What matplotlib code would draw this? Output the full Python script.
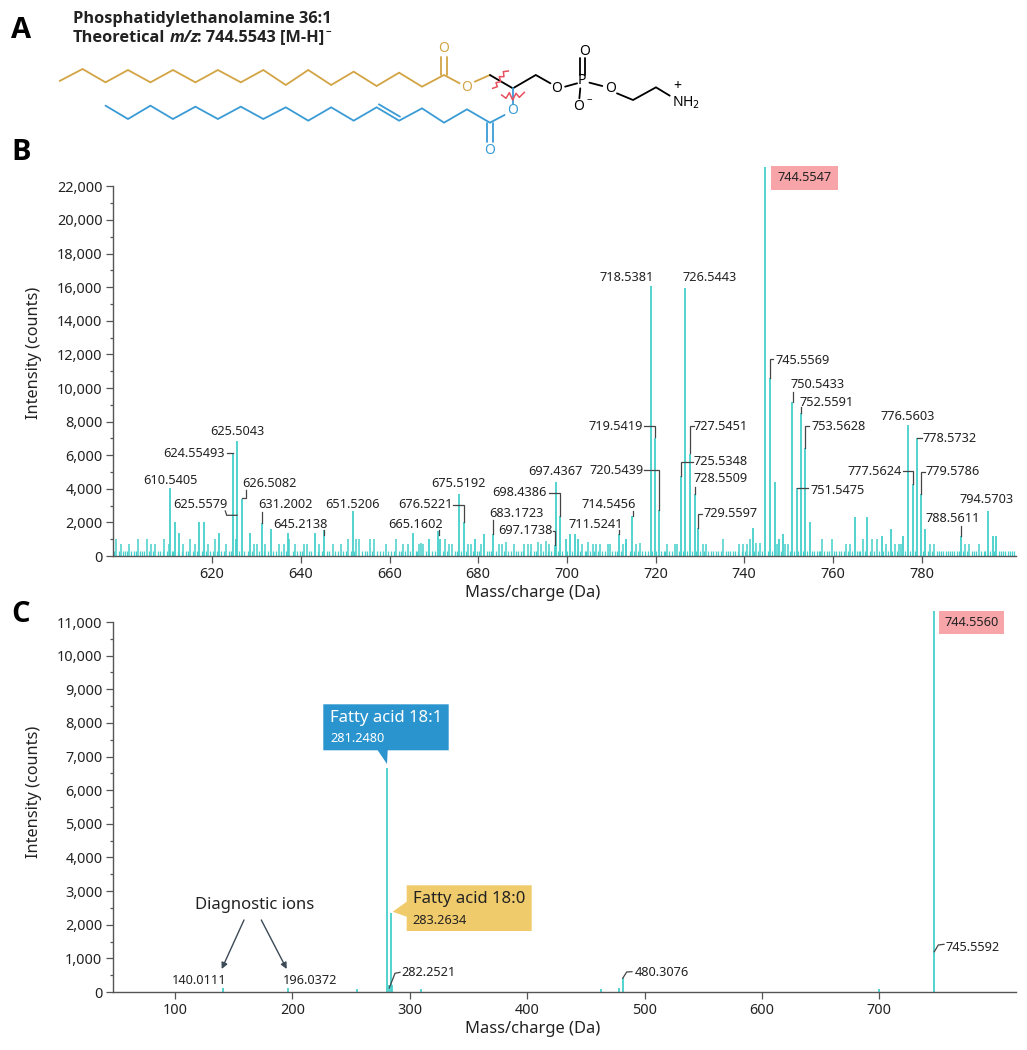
import matplotlib
matplotlib.use("Agg")
import matplotlib.pyplot as plt
from matplotlib.patches import Polygon, Rectangle

plt.rcParams['font.family'] = ['Noto Sans', 'DejaVu Sans']

W, H = 1027, 1050
TEAL = '#45d0cc'
AXIS = '#555555'
INK = '#222222'
GOLD = '#d2a444'
BLUE = '#3a9bd5'
PINK = '#f7a5a8'
BOLD = ['Open Sans', 'DejaVu Sans']

# Panel B, the tall named peaks (m/z, counts)
b_peak_mz = [610.6, 611.6, 612.6, 617.1, 618.1, 621.5, 624.6, 625.57, 626.65, 625.3, 628.5, 631.2, 633.2, 637.0,
             643.2, 645.3, 651.7, 665.4, 670.9, 671.4, 669.0, 675.7, 676.7, 679.2, 681.3, 683.4, 697.5, 698.5,
             697.3, 700.7, 701.8, 699.7, 702.6, 711.7, 714.8, 713.3, 718.87, 719.85, 720.75, 725.7, 726.68, 727.75,
             728.8, 729.6, 741.9, 744.8, 745.85, 746.85, 748.7, 747.9, 750.85, 751.8, 752.7, 753.76, 754.8,
             765.0, 767.8, 771.0, 773.0, 775.9, 776.85, 778.0, 779.0, 779.9, 780.8, 788.9, 794.9, 796.0, 796.9]
b_peak_counts = [4020, 2000, 1350, 2000, 2000, 1350, 6100, 6830, 3400, 1000, 1350, 1950, 1600, 1350,
                 1350, 1550, 2650, 1350, 1500, 1000, 1000, 3720, 2000, 1000, 1300, 1290, 4400, 2370,
                 650, 1300, 1300, 1000, 1000, 1290, 2370, 1000, 16090, 7050, 2730, 4770, 15970, 6100,
                 3680, 1640, 1690, 23150, 10570, 4385, 1310, 990, 9190, 4030, 8490, 6450, 2000,
                 2340, 2340, 1210, 1590, 1210, 7780, 4290, 7040, 3670, 1590, 1210, 2700, 1210, 1210]

# Panel B, the grass under the peaks: three rough height classes
b_grass_high_mz = [598.3, 603.2, 605.2, 609.2, 615.1, 620.6, 637.4, 650.6, 652.5, 653.2, 655.5, 656.5, 661.5,
                   667.0, 672.5, 686.2, 693.4, 695.3, 704.8, 713.4, 716.6, 735.3, 741.3, 743.5, 757.6, 759.8,
                   766.7, 768.9, 769.9, 742.6]
b_grass_high_counts = [1000, 1000, 1000, 1000, 1000, 1000, 1000, 1000, 1000, 1000, 1000, 1000, 1000,
                       800, 1000, 850, 850, 900, 850, 800, 800, 1000, 1000, 800, 1000, 1000,
                       1000, 1000, 1000, 800]
b_grass_mid_mz = [599.4, 601.2, 606.2, 607.2, 610.2, 613.5, 616.1, 619.1, 623.2, 629.4, 630.1, 632.0, 635.0,
                  636.1, 638.7, 640.6, 641.3, 644.2, 647.2, 649.0, 659.1, 663.1, 664.2, 666.6, 667.6, 673.4,
                  674.2, 677.6, 678.3, 680.6, 684.6, 685.4, 688.0, 690.4, 691.2, 692.0, 694.2, 696.0, 703.4,
                  705.8, 706.6, 707.4, 709.2, 709.8, 712.6, 715.6, 722.6, 724.4, 724.9, 730.6, 731.4, 738.9,
                  739.8, 740.6, 747.3, 749.2, 749.9, 762.9, 763.9, 771.9, 773.9, 774.9, 775.4, 781.9, 782.9,
                  789.8, 790.8, 792.9]
b_grass_low_mz = [597.9, 598.9, 599.9, 600.4, 600.9, 601.8, 602.3, 602.8, 603.7, 604.2, 604.7, 605.7, 606.7,
                  607.8, 608.3, 608.8, 609.7, 610.9, 611.2, 612.2, 613.1, 614.1, 614.6, 615.7, 616.6, 617.6,
                  618.6, 619.6, 620.1, 621.1, 622.0, 622.6, 623.7, 624.2, 626.1, 627.2, 628.0, 628.9, 630.6,
                  631.6, 632.5, 633.8, 634.4, 635.5, 636.6, 638.2, 639.2, 639.8, 640.2, 641.9, 642.4, 643.8,
                  644.8, 645.8, 646.4, 647.8, 648.4, 649.6, 650.2, 651.2, 652.0, 653.8, 654.4, 654.9, 656.0,
                  657.1, 657.8, 658.5, 659.7, 660.3, 660.9, 662.2, 662.7, 663.6, 664.7, 665.9, 666.2, 668.2,
                  668.6, 669.6, 670.2, 672.0, 673.0, 674.8, 675.2, 676.2, 677.2, 678.8, 679.8, 680.2, 681.9,
                  682.5, 683.0, 684.0, 685.9, 686.7, 687.3, 688.5, 689.0, 689.6, 690.0, 691.7, 692.6, 693.0,
                  694.7, 695.8, 696.5, 697.0, 698.0, 699.0, 700.0, 701.2, 702.2, 703.0, 704.0, 704.4, 705.3,
                  706.2, 707.0, 708.0, 708.6, 710.2, 710.8, 711.2, 712.2, 714.2, 715.2, 716.0, 717.0, 717.6,
                  718.2, 719.3, 720.2, 721.2, 721.8, 722.2, 723.0, 723.6, 725.2, 726.2, 727.2, 728.2, 729.1,
                  730.1, 731.0, 731.9, 732.5, 733.0, 733.6, 734.2, 734.8, 735.8, 736.3, 736.9, 737.5, 738.0,
                  738.5, 739.4, 740.1, 741.0, 742.2, 743.0, 744.1, 745.3, 746.3, 748.3, 750.4, 751.3, 752.2,
                  753.2, 754.2, 755.3, 755.8, 756.4, 756.9, 757.2, 758.1, 758.6, 759.2, 760.3, 760.8, 761.4,
                  761.9, 762.4, 763.4, 764.4, 765.4, 765.9, 766.2, 767.2, 768.3, 769.3, 770.4, 771.4, 772.4,
                  773.4, 774.4, 776.3, 777.4, 778.5, 780.3, 781.4, 782.4, 783.4, 783.9, 784.4, 784.9, 785.4,
                  785.9, 786.4, 786.9, 787.4, 787.9, 788.4, 789.3, 790.3, 791.3, 791.8, 792.3, 793.4, 794.0,
                  794.4, 795.4, 796.4, 797.4, 797.9, 798.4, 798.9, 799.4, 799.9, 800.4, 800.9]

# Panel C
c_peak_mz = [140.6, 196.0, 255.0, 280.6, 282.6, 283.6, 284.4, 309.7, 462.6, 478.5, 481.3, 699.4, 746.8]
c_peak_counts = [110, 130, 90, 6670, 200, 2340, 220, 100, 100, 110, 410, 100, 11330]

b_yticks = [0, 2000, 4000, 6000, 8000, 10000, 12000, 14000, 16000, 18000, 20000, 22000]
b_yticklabels = ['0', '2,000', '4,000', '6,000', '8,000', '10,000', '12,000', '14,000', '16,000', '18,000', '20,000', '22,000']
b_xticks = [620, 640, 660, 680, 700, 720, 740, 760, 780]
c_yticks = [0, 1000, 2000, 3000, 4000, 5000, 6000, 7000, 8000, 9000, 10000, 11000]
c_yticklabels = ['0', '1,000', '2,000', '3,000', '4,000', '5,000', '6,000', '7,000', '8,000', '9,000', '10,000', '11,000']
c_xticks = [100, 200, 300, 400, 500, 600, 700]


def px_axes(left, top, right, bottom):
    return fig.add_axes([left / W, 1 - bottom / H, (right - left) / W, (bottom - top) / H])


def style_axis(ax, yticks, ylabels, xticks, ymax, minor):
    ax.set_ylim(0, ymax)
    ax.spines['top'].set_visible(False)
    ax.spines['right'].set_visible(False)
    ax.spines['left'].set_color(AXIS)
    ax.spines['bottom'].set_color(AXIS)
    ax.spines['left'].set_linewidth(1.0)
    ax.spines['bottom'].set_linewidth(1.0)
    ax.set_yticks(yticks)
    ax.set_yticklabels(ylabels)
    ax.set_yticks(minor, minor=True)
    ax.set_xticks(xticks)
    ax.tick_params(axis='both', which='major', length=4.8, width=0.9, color=AXIS, labelsize=10.4, labelcolor=INK, pad=3)
    ax.tick_params(axis='y', which='minor', length=2.4, width=0.9, color=AXIS)
    ax.patch.set_alpha(0)


fig = plt.figure(figsize=(W / 100, H / 100), dpi=100)

# Panel B
ax_b = px_axes(113.3, 186.4, 1016, 556)
ax_b.vlines(b_grass_low_mz, 0, [320] * len(b_grass_low_mz), color=TEAL, lw=0.9)
ax_b.vlines(b_grass_mid_mz, 0, [720] * len(b_grass_mid_mz), color=TEAL, lw=1.1)
ax_b.vlines(b_grass_high_mz, 0, b_grass_high_counts, color=TEAL, lw=1.1)
ax_b.vlines(b_peak_mz, 0, b_peak_counts, color=TEAL, lw=1.3, clip_on=False)
ax_b.set_xlim(597.7, 801.3)
style_axis(ax_b, b_yticks, b_yticklabels, b_xticks, 22000, list(range(1000, 22000, 2000)))

# Panel C
ax_c = px_axes(113.3, 622, 1016, 992)
ax_c.vlines(c_peak_mz, 0, c_peak_counts, color=TEAL, lw=1.3, clip_on=False)
ax_c.set_xlim(47.4, 816.4)
style_axis(ax_c, c_yticks, c_yticklabels, c_xticks, 11000, list(range(500, 11000, 1000)))

# Overlay in picture pixels for labels, leaders and the structure
ov = fig.add_axes([0, 0, 1, 1])
ov.set_xlim(0, W)
ov.set_ylim(H, 0)
ov.axis('off')
ov.patch.set_alpha(0)

for letter, y in [('A', 31), ('B', 152), ('C', 615)]:
    ov.text(21, y, letter, fontsize=21, fontweight='bold', family=BOLD, color='black', ha='center', va='center')
ov.text(73, 19, 'Phosphatidylethanolamine 36:1', fontsize=11.8, fontweight='bold', family=BOLD, color=INK, va='center')
ov.text(73, 37.5, 'Theoretical', fontsize=11.8, fontweight='bold', family=BOLD, color=INK, va='center')
ov.text(170, 37.5, 'm/z', fontsize=11.8, fontweight='bold', style='italic', family=BOLD, color=INK, va='center')
ov.text(197, 37.5, ': 744.5543 [M-H]', fontsize=11.8, fontweight='bold', family=BOLD, color=INK, va='center')
ov.text(326, 32, '\u2212', fontsize=7, fontweight='bold', family=BOLD, color=INK, va='center')

for x, y in [(34, 353), (34, 792)]:
    ov.text(x, y, 'Intensity (counts)', fontsize=11.7, color=INK, rotation=90, ha='center', va='center')
for y in [593, 1029]:
    ov.text(533, y, 'Mass/charge (Da)', fontsize=11.9, color=INK, ha='center', va='center')

# peak labels of panel B: text, left edge, y
b_labels = [('610.5405', 143, 480), ('625.5043', 210.7, 431.7), ('624.55493', 163.3, 453.3), ('625.5579', 173.3, 505),
            ('626.5082', 242.7, 483.3), ('631.2002', 258.3, 505), ('645.2138', 273.7, 524.3), ('651.5206', 325.7, 505),
            ('665.1602', 388, 524.3), ('675.5192', 431.7, 483.3), ('676.5221', 398, 505), ('683.1723', 489.3, 513.3),
            ('697.1738', 498.7, 530.7), ('697.4367', 528.3, 471.3), ('698.4386', 492.7, 493), ('711.5241', 568.3, 524.3),
            ('714.5456', 581.7, 505), ('719.5419', 588.3, 426.3), ('720.5439', 589.3, 471), ('727.5451', 693.7, 426.3),
            ('725.5348', 693.7, 461.7), ('728.5509', 693.7, 479), ('729.5597', 703, 513.3), ('718.5381', 599.3, 277.7),
            ('726.5443', 682.7, 277.7), ('745.5569', 776, 361), ('750.5433', 790.3, 385), ('752.5591', 799, 402.7),
            ('753.5628', 811.7, 426.3), ('751.5475', 810.7, 490), ('776.5603', 880.7, 417), ('778.5732', 922.7, 438.7),
            ('777.5624', 847.7, 471.7), ('779.5786', 926, 471.7), ('788.5611', 926, 519), ('794.5703', 960, 499.3)]
c_labels = [('140.0111', 171.5, 981), ('196.0372', 283.3, 981), ('282.2521', 401.7, 972.3),
            ('480.3076', 634.3, 972.3), ('745.5592', 946, 947.7)]
for txt, x, y in b_labels + c_labels:
    ov.text(x, y, txt, fontsize=9.2, color=INK, ha='left', va='center')

leaders = [[(226.7, 453.3), (232.7, 453.3)], [(225.3, 511), (226.7, 515.3), (237, 515.3)],
           [(246, 490), (246, 498.3), (241.7, 498.3)], [(262, 512.3), (262, 523.3)], [(324.3, 530), (324.3, 535)],
           [(438.7, 530), (438.7, 535)], [(453.3, 505), (463.7, 505), (463.7, 522.3)], [(493.3, 520), (493.3, 534.3)],
           [(552.7, 530.7), (555, 530.7), (555, 545)], [(549, 493), (560.3, 493), (560.3, 516)],
           [(619, 530), (619, 534.3)], [(632.7, 511), (632.7, 516)], [(644, 426.3), (655.3, 426.3), (655.3, 437.3)],
           [(644.3, 470.3), (659, 470.3), (659, 510)], [(694, 426.3), (690, 426.3), (690, 453.3)],
           [(693, 461.7), (681, 461.7), (681, 475.7)], [(694.7, 486.7), (694.7, 494)],
           [(698, 528.3), (698, 514), (702, 514)], [(770.3, 378.3), (770.3, 359.3), (772.7, 359.3)],
           [(792.7, 391.7), (792.7, 401.7)], [(800.7, 406.7), (800.7, 413.3)],
           [(805.3, 447.7), (805.3, 426.3), (809.3, 426.3)], [(796.7, 488.3), (807.7, 488.3)],
           [(917, 437.7), (922, 437.7)], [(903.3, 471.3), (912.7, 471.3), (912.7, 484)],
           [(921, 494.3), (921, 471.7), (925, 471.7)], [(961, 526), (961, 535.7)],
           [(389.3, 988), (395, 973.3), (400, 972.3)], [(622.7, 978.3), (626.7, 972), (632, 971.7)],
           [(934.3, 951.7), (938.3, 945), (944, 944.3)]]
for pts in leaders:
    ov.plot([p[0] for p in pts], [p[1] for p in pts], color='#444444', lw=0.9, solid_joinstyle='miter')

# boxes
ov.add_patch(Rectangle((770.7, 165.7), 67, 24, facecolor=PINK, edgecolor='none'))
ov.text(804.2, 177.7, '744.5547', fontsize=9.2, color=INK, ha='center', va='center')
ov.add_patch(Rectangle((939.3, 610.7), 64.4, 23.6, facecolor=PINK, edgecolor='none'))
ov.text(971.5, 622.5, '744.5560', fontsize=9.2, color=INK, ha='center', va='center')

ov.add_patch(Polygon([(323.3, 704.3), (448.7, 704.3), (448.7, 750.3), (387.7, 750.3), (387, 764), (377.7, 750.3),
                      (323.3, 750.3)], facecolor='#2a94cf', edgecolor='none'))
ov.text(330, 718.3, 'Fatty acid 18:1', fontsize=12, color='white', va='center')
ov.text(330, 739, '281.2480', fontsize=9.2, color='white', va='center')

ov.add_patch(Polygon([(406.7, 885.3), (531.7, 885.3), (531.7, 931), (406.7, 931), (406.7, 916.7), (392.7, 911.7),
                      (406.7, 901.7)], facecolor='#f0cb6b', edgecolor='none'))
ov.text(412.7, 899, 'Fatty acid 18:0', fontsize=12, color=INK, va='center')
ov.text(412.7, 920, '283.2634', fontsize=9.2, color=INK, va='center')

ov.text(254.3, 905, 'Diagnostic ions', fontsize=12, color=INK, ha='center', va='center')
for start, end in [((244, 920), (221.7, 969)), ((261.3, 920), (286.7, 969))]:
    ov.annotate('', xy=end, xytext=start, arrowprops=dict(arrowstyle='-|>', color='#3c4a57', lw=1.0, mutation_scale=9,
                                                          shrinkA=0, shrinkB=0))


def bond(pts, color, lw=1.3):
    ov.plot([p[0] / 2.18 for p in pts], [p[1] / 3 for p in pts], color=color, lw=lw, solid_capstyle='round', solid_joinstyle='miter')


bond([(130, 243), (180, 207), (230, 247), (279, 210), (328, 247), (377, 210), (426, 247), (475, 210), (525, 247),
      (574, 210), (623, 255), (672, 210), (722, 255), (771, 215), (821, 258), (870, 218), (920, 260), (968, 225),
      (1002, 250)], GOLD)
bond([(962, 225), (962, 170)], GOLD)
bond([(974, 225), (974, 170)], GOLD)
bond([(1035, 245), (1068, 225)], GOLD)
bond([(1068, 225), (1118, 265), (1168, 225), (1200, 250)], 'black')
bond([(1232, 260), (1258, 250)], 'black')
bond([(1264, 225), (1264, 175)], 'black')
bond([(1276, 225), (1276, 175)], 'black')
bond([(1265, 265), (1263, 295)], 'black')
bond([(1285, 248), (1313, 258)], 'black')
bond([(1345, 280), (1380, 300), (1430, 262), (1460, 287)], 'black')
bond([(230, 317), (279, 357), (328, 317), (377, 357), (426, 320), (475, 357), (525, 320), (574, 357), (623, 322),
      (672, 362), (722, 322), (771, 362), (821, 322), (870, 362), (920, 325), (968, 368), (1018, 328), (1068, 368),
      (1100, 345)], BLUE)
bond([(826, 313), (872, 350)], BLUE)
bond([(1062, 368), (1062, 425)], BLUE)
bond([(1074, 368), (1074, 425)], BLUE)
bond([(1118, 265), (1118, 312)], BLUE)

atoms = [('O', 968, 145, GOLD), ('O', 1017, 263, GOLD), ('O', 1117, 330, BLUE), ('O', 1067, 450, BLUE),
         ('O', 1214, 265, 'black'), ('P', 1268, 240, 'black'), ('O', 1275, 155, 'black'), ('O', 1262, 320, 'black'),
         ('O', 1330, 265, 'black'), ('NH$_2$', 1495, 308, 'black'), ('+', 1476, 260, 'black')]
for name, x, y, color in atoms:
    ov.text(x / 2.18, y / 3, name, fontsize=10, color=color, ha='center', va='center', math_fontfamily='dejavusans')
ov.text(1284 / 2.18, 302 / 3, '\u2212', fontsize=7, color='black', ha='center', va='center')

# red cut marks
cut_a = [(98, 145), (112, 140), (108, 128), (122, 125), (118, 110), (132, 110), (130, 95), (145, 93)]
cut_b = [(125, 165), (138, 175), (148, 158), (158, 180), (168, 160), (178, 172), (193, 157)]
for cut in (cut_a, cut_b):
    ov.plot([460 + p[0] / 3 for p in cut], [40 + p[1] / 3 for p in cut], color='#e8505f', lw=1.1)

fig.savefig('out.png', dpi=100)
